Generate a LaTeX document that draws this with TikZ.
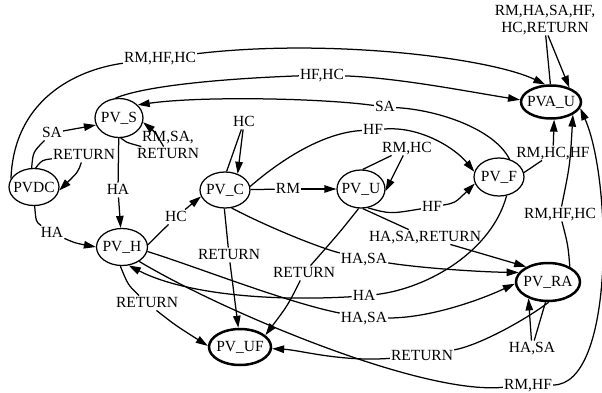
\documentclass[tikz,border=0pt]{standalone}
\usepackage{fontspec}
\setmainfont{Liberation Serif}
\usetikzlibrary{shapes.geometric,arrows.meta}

\begin{document}
\begin{tikzpicture}[x=1pt,y=-1pt,
  font=\fontsize{15.5}{17}\selectfont,
  state/.style={ellipse,draw,line width=1.25pt,inner sep=-6pt},
  final/.style={state,line width=2.5pt},
  lbl/.style={inner sep=1pt,align=center,text height=10.5pt,text depth=2pt},
  edge/.style={line width=1.25pt},
  arr/.style={edge,-{Triangle[length=12pt,width=7.5pt]}},
]
\useasboundingbox (0,0) rectangle (602,393);

% states
\node[final,minimum width=60pt,minimum height=33pt] (pvau) at (551,102) {PVA\_U};
\node[state,minimum width=48pt,minimum height=39pt] (pvs)  at (119,118) {PV\_S};
\node[state,minimum width=50pt,minimum height=37pt] (pvdc) at (34,187)  {PVDC};
\node[state,minimum width=50pt,minimum height=36pt] (pvc)  at (225,190) {PV\_C};
\node[state,minimum width=48pt,minimum height=38pt] (pvu)  at (361,189) {PV\_U};
\node[state,minimum width=50pt,minimum height=38pt] (pvf)  at (499,177) {PV\_F};
\node[state,minimum width=51pt,minimum height=37pt] (pvh)  at (122,247) {PV\_H};
\node[final,minimum width=62pt,minimum height=36pt] (pvuf) at (240,347) {PV\_UF};
\node[final,minimum width=64pt,minimum height=38pt] (pvra) at (548,282) {PV\_RA};

% transition labels
\node[lbl] (l1)  at (160,58)  {RM,HF,HC};
\node[lbl] (l2)  at (322,75)  {HF,HC};
\node[lbl] (l3)  at (385,107) {SA};
\node[lbl] (l4)  at (52,133)  {SA};
\node[lbl] (l5)  at (84,155)  {RETURN};
\node[lbl] (l6)  at (168,154) {RM,SA,\\RETURN};
\node[lbl] (l7)  at (118,190) {HA};
\node[lbl] (l8)  at (52,233)  {HA};
\node[lbl] (l9)  at (176,217) {HC};
\node[lbl] (l10) at (244,122) {HC};
\node[lbl] (l11) at (288,189) {RM};
\node[lbl] (l12) at (373,130) {HF};
\node[lbl] (l13) at (407,148) {RM,HC};
\node[lbl] (l14) at (432,207) {HF};
\node[lbl] (l15) at (425,237) {HA,SA,RETURN};
\node[lbl] (l16) at (364,259) {HA,SA};
\node[lbl] (l17) at (229,255) {RETURN};
\node[lbl] (l18) at (304,273) {RETURN};
\node[lbl] (l19) at (364,296) {HA};
\node[lbl] (l20) at (364,318) {HA,SA};
\node[lbl] (l21) at (147,303) {RETURN};
\node[lbl] (l22) at (422,356) {RETURN};
\node[lbl] (l23) at (532,348) {HA,SA};
\node[lbl] (l24) at (528,385) {RM,HF};
\node[lbl] (l25) at (560,214) {RM,HF,HC};
\node[lbl] (l26) at (553,153) {RM,HC,HF};
\node[lbl] (l27) at (545,28)  {RM,HA,SA,HF,\\HC,RETURN};

% transitions: source -> label -> target
\draw[edge] (pvdc.160) .. controls (14,100) and (75,70) .. (l1);
\draw[arr]  (l1) .. controls (330,38) and (490,58) .. (pvau.108);

\draw[edge] (pvs.100) .. controls (150,84) and (240,78) .. (l2);
\draw[arr]  (l2) .. controls (400,78) and (470,92) .. (pvau.176);

\draw[edge] (pvf.60) .. controls (495,130) and (440,110) .. (l3);
\draw[arr]  (l3) .. controls (320,98) and (200,96) .. (pvs.35);

\draw[edge] (pvdc.97) .. controls (33,152) .. (l4);
\draw[arr]  (l4) -- (pvs.197);

\draw[edge] (pvdc.85) .. controls (42,160) .. (l5);
\draw[arr]  (l5) .. controls (78,172) .. (pvdc.-8);

\draw[edge] (pvs.-85) .. controls (125,142) .. (l6);
\draw[arr]  (l6) .. controls (155,132) .. (pvs.-10);

\draw[edge] (pvs) -- (l7);
\draw[arr]  (l7) -- (pvh);

\draw[edge] (pvdc.-88) .. controls (36,222) .. (l8);
\draw[arr]  (l8) .. controls (75,243) .. (pvh.180);

\draw[edge] (pvh.5) -- (l9);
\draw[arr]  (l9) -- (pvc.195);

\draw[edge] (pvc.85) -- (l10);
\draw[arr]  (l10) -- (pvc.52);

\draw[edge] (pvc) -- (l11);
\draw[arr]  (l11) -- (pvu);

\draw[edge] (pvc.8) .. controls (290,152) and (330,132) .. (l12);
\draw[arr]  (l12) .. controls (420,126) and (455,148) .. (pvf.168);

\draw[edge] (pvu.85) -- (l13);
\draw[arr]  (l13) -- (pvu.-5);

\draw[edge] (pvu.-70) .. controls (390,214) .. (l14);
\draw[arr]  (l14) .. controls (455,203) .. (pvf.195);

\draw[edge] (pvu.-85) -- (l15);
\draw[arr]  (l15) -- (pvra.145);

\draw[edge] (pvc.-70) .. controls (270,228) and (320,248) .. (l16);
\draw[arr]  (l16) .. controls (420,268) and (480,272) .. (pvra.162);

\draw[edge] (pvc.-92) -- (l17);
\draw[arr]  (l17) -- (pvuf.95);

\draw[edge] (pvu.-97) .. controls (340,232) .. (l18);
\draw[arr]  (l18) .. controls (288,305) .. (pvuf.25);

\draw[edge] (pvf.-68) .. controls (492,250) and (430,288) .. (l19);
\draw[arr]  (l19) .. controls (260,302) and (180,292) .. (pvh.-70);

\draw[edge] (pvh.-10) .. controls (200,268) and (285,302) .. (l20);
\draw[arr]  (l20) .. controls (430,318) and (480,300) .. (pvra.183);

\draw[edge] (pvh.-95) .. controls (128,285) .. (l21);
\draw[arr]  (l21) .. controls (175,325) .. (pvuf.178);

\draw[edge] (pvra.-88) .. controls (525,320) and (480,345) .. (l22);
\draw[arr]  (l22) .. controls (340,362) and (300,350) .. (pvuf.-3);

\draw[edge] (pvra.-97) -- (l23);
\draw[arr]  (l23) -- (pvra.-140);

\draw[edge] (pvh.-40) .. controls (220,310) and (420,395) .. (l24);
\draw[arr]  (l24) .. controls (615,385) and (612,180) .. (pvau.-12);

\draw[edge] (pvra.35) .. controls (568,245) .. (l25);
\draw[arr]  (l25) .. controls (570,165) .. (pvau.-30);

\draw[edge] (pvf.10) -- (l26);
\draw[arr]  (l26) -- (pvau.-80);

\draw[edge] (pvau.92) -- (l27);
\draw[arr]  (l27) -- (pvau.38);
\end{tikzpicture}
\end{document}
